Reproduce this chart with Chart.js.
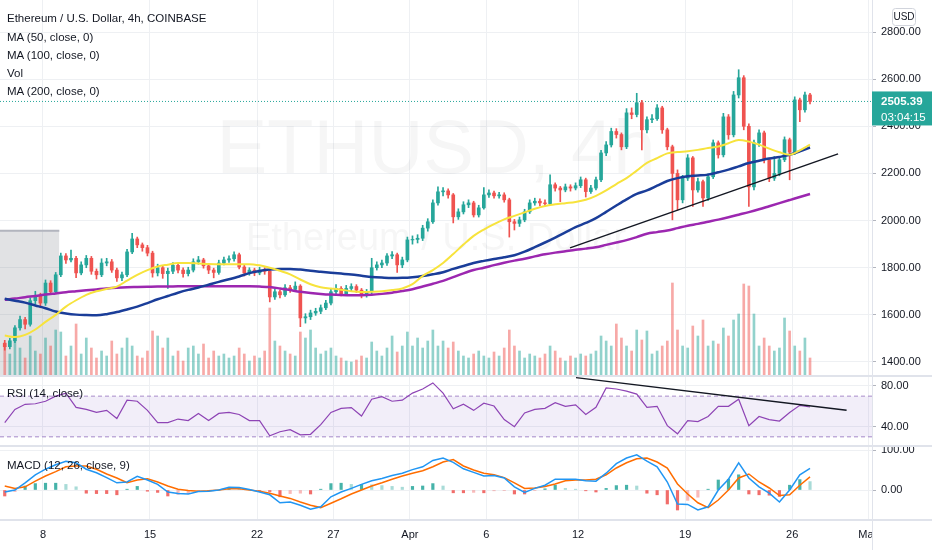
<!DOCTYPE html>
<html>
<head>
<meta charset="utf-8">
<title>ETHUSD 4h</title>
<script src="https://cdn.jsdelivr.net/npm/chart.js@4.4.1/dist/chart.umd.min.js"></script>
<style>
  html, body { margin: 0; padding: 0; background: #fff; }
  #wrap { position: relative; width: 932px; height: 550px; overflow: hidden; }
  #c { display: block; }
  .lg { position: absolute; left: 7px; font: 11.5px "Liberation Sans", Arial, sans-serif;
        color: #131722; line-height: 14px; white-space: nowrap; }
</style>
</head>
<body>
<div id="wrap">
  <canvas id="c" width="932" height="550"></canvas>
  <div class="lg" style="top:11px">Ethereum / U.S. Dollar, 4h, COINBASE</div>
  <div class="lg" style="top:30px">MA (50, close, 0)</div>
  <div class="lg" style="top:48px">MA (100, close, 0)</div>
  <div class="lg" style="top:66px">Vol</div>
  <div class="lg" style="top:84px">MA (200, close, 0)</div>
  <div class="lg" style="top:386px">RSI (14, close)</div>
  <div class="lg" style="top:458px">MACD (12, 26, close, 9)</div>
</div>
<script>
// ETHUSD 4h (Coinbase): price pane + RSI + MACD.
// candles taken every 8h (3 per day) so the series stays readable

// time axis: days counted with Mar 1 = day 1
const START_DAY = 5.5;
const CANDLE_DAYS = 1 / 3;
const X_MIN = 5.19;
const X_MAX = 62.22;

const xTickDays = [8, 15, 22, 27, 32, 37, 43, 50, 57, 62];
const xTickLabels = ["8", "15", "22", "27", "Apr", "6", "12", "19", "26", "May"];
const priceTicks = [1400, 1600, 1800, 2000, 2200, 2400, 2600, 2800];
const rsiTicks = [40, 80];
const macdTicks = [0, 100];

const firstOpen = 1480;
const closes = [
    1465, 1490, 1545, 1580, 1560, 1660, 1680, 1650, 1735, 1698,
    1770, 1850, 1833, 1840, 1778, 1812, 1840, 1785, 1770, 1820,
    1825, 1790, 1757, 1770, 1867, 1922, 1897, 1885, 1862, 1778,
    1800, 1775, 1785, 1810, 1790, 1775, 1790, 1825, 1833, 1808,
    1790, 1780, 1820, 1833, 1838, 1855, 1803, 1778, 1790, 1778,
    1790, 1785, 1676, 1698, 1685, 1715, 1708, 1722, 1587, 1592,
    1608, 1615, 1630, 1650, 1698, 1712, 1690, 1712, 1720, 1705,
    1685, 1698, 1800, 1812, 1820, 1850, 1855, 1812, 1833, 1918,
    1920, 1925, 1968, 1995, 2075, 2122, 2126, 2109, 2016, 2037,
    2067, 2075, 2024, 2054, 2109, 2117, 2105, 2109, 2088, 1995,
    1988, 2003, 2037, 2075, 2082, 2075, 2072, 2152, 2138, 2130,
    2143, 2138, 2148, 2173, 2123, 2138, 2173, 2287, 2321, 2378,
    2365, 2313, 2457, 2450, 2500, 2385, 2428, 2432, 2478, 2385,
    2313, 2200, 2088, 2180, 2266, 2130, 2165, 2096, 2186, 2330,
    2279, 2440, 2364, 2533, 2606, 2400, 2143, 2330, 2372, 2258,
    2180, 2200, 2258, 2343, 2290, 2512, 2470, 2533, 2505.39,
];
const highs = [
    1492, 1500, 1555, 1595, 1590, 1672, 1700, 1692, 1748, 1745,
    1780, 1862, 1860, 1875, 1848, 1825, 1852, 1848, 1795, 1838,
    1840, 1835, 1798, 1782, 1878, 1946, 1930, 1905, 1895, 1870,
    1815, 1810, 1798, 1822, 1820, 1800, 1802, 1838, 1848, 1840,
    1815, 1798, 1832, 1845, 1850, 1867, 1862, 1810, 1800, 1798,
    1802, 1800, 1790, 1710, 1705, 1728, 1725, 1740, 1728, 1605,
    1620, 1628, 1642, 1662, 1710, 1728, 1720, 1725, 1732, 1728,
    1712, 1708, 1840, 1825, 1832, 1860, 1868, 1862, 1845, 1930,
    1935, 1940, 1980, 2008, 2088, 2143, 2140, 2135, 2115, 2050,
    2080, 2088, 2082, 2065, 2140, 2130, 2125, 2120, 2118, 2095,
    2005, 2015, 2048, 2088, 2095, 2092, 2088, 2194, 2160, 2145,
    2155, 2152, 2160, 2185, 2180, 2150, 2185, 2298, 2335, 2392,
    2390, 2372, 2475, 2478, 2540, 2510, 2440, 2450, 2492, 2485,
    2392, 2320, 2215, 2192, 2280, 2272, 2180, 2172, 2198, 2342,
    2338, 2455, 2450, 2548, 2640, 2615, 2410, 2342, 2385, 2380,
    2265, 2272, 2270, 2355, 2350, 2525, 2520, 2545, 2540,
];
const lows = [
    1450, 1455, 1482, 1535, 1540, 1552, 1645, 1630, 1640, 1688,
    1690, 1762, 1818, 1825, 1758, 1770, 1800, 1772, 1752, 1762,
    1808, 1780, 1742, 1745, 1762, 1860, 1885, 1870, 1850, 1760,
    1765, 1755, 1712, 1775, 1778, 1760, 1765, 1782, 1815, 1798,
    1775, 1757, 1772, 1812, 1822, 1828, 1795, 1765, 1768, 1766,
    1770, 1772, 1655, 1665, 1672, 1678, 1695, 1700, 1550, 1565,
    1580, 1598, 1605, 1622, 1642, 1690, 1680, 1682, 1702, 1695,
    1672, 1675, 1690, 1790, 1800, 1810, 1838, 1780, 1800, 1825,
    1900, 1905, 1915, 1955, 1988, 2065, 2105, 2095, 1990, 2005,
    2028, 2055, 2015, 2015, 2048, 2098, 2095, 2095, 2078, 1930,
    1960, 1975, 1995, 2030, 2065, 2062, 2060, 2065, 2125, 2080,
    2122, 2125, 2130, 2140, 2100, 2115, 2130, 2165, 2275, 2312,
    2350, 2300, 2305, 2432, 2440, 2300, 2372, 2415, 2425, 2370,
    2300, 2003, 2045, 2075, 2170, 2060, 2120, 2060, 2085, 2178,
    2265, 2270, 2345, 2355, 2520, 2385, 2060, 2130, 2315, 2245,
    2165, 2170, 2190, 2250, 2173, 2280, 2420, 2460, 2495,
];
// volume, thousand ETH per bar
const volumes = [
    30, 22, 35, 28, 18, 40, 25, 22, 38, 30,
    46, 44, 20, 30, 52, 22, 38, 28, 18, 25,
    20, 35, 22, 28, 38, 30, 20, 18, 25, 45,
    40, 28, 38, 20, 25, 15, 28, 30, 22, 32,
    18, 25, 20, 22, 18, 20, 28, 22, 15, 20,
    18, 25, 68, 35, 30, 25, 22, 20, 44, 38,
    46, 28, 22, 25, 28, 20, 18, 15, 14, 16,
    20, 18, 34, 25, 20, 28, 40, 24, 30, 44,
    30, 38, 28, 35, 46, 30, 35, 28, 34, 25,
    20, 18, 22, 25, 20, 18, 24, 20, 28, 46,
    30, 25, 18, 22, 20, 18, 22, 30, 25, 18,
    15, 20, 18, 22, 20, 22, 25, 40, 35, 30,
    52, 38, 30, 25, 46, 36, 45, 22, 25, 30,
    35, 93, 46, 30, 28, 50, 40, 56, 30, 35,
    32, 48, 40, 56, 62, 92, 90, 62, 30, 38,
    30, 25, 28, 58, 45, 30, 25, 38, 18,
];

// indicators: one value every second candle
const ma50 = [
    1512, 1506, 1515, 1538, 1570, 1600, 1635, 1662, 1685, 1700,
    1710, 1720, 1745, 1770, 1790, 1805, 1813, 1820, 1820, 1818,
    1816, 1815, 1815, 1815, 1815, 1810, 1800, 1787, 1772, 1750,
    1730, 1717, 1712, 1707, 1700, 1697, 1698, 1700, 1705, 1712,
    1730, 1765, 1790, 1820, 1858, 1898, 1935, 1962, 1985, 2005,
    2020, 2035, 2050, 2062, 2069, 2074, 2079, 2088, 2105, 2128,
    2155, 2180, 2212, 2245, 2265, 2285, 2291, 2294, 2300, 2308,
    2314, 2328, 2342, 2335, 2322, 2305, 2290, 2279, 2298, 2322,
];
const ma100 = [
    1668, 1660, 1652, 1640, 1628, 1614, 1606, 1601, 1599, 1598,
    1603, 1612, 1623, 1635, 1650, 1666, 1680, 1694, 1706, 1716,
    1728, 1740, 1751, 1763, 1777, 1786, 1792, 1795, 1795, 1792,
    1787, 1783, 1779, 1775, 1771, 1766, 1761, 1758, 1756, 1757,
    1760, 1765, 1772, 1781, 1795, 1807, 1820, 1829, 1837, 1844,
    1853, 1868, 1887, 1907, 1928, 1950, 1972, 1990, 2010, 2037,
    2064, 2090, 2113, 2128, 2148, 2168, 2180, 2188, 2191, 2195,
    2205, 2216, 2230, 2244, 2254, 2263, 2270, 2279, 2294, 2310,
];
const ma200 = [
    1664, 1669, 1675, 1680, 1686, 1691, 1696, 1700, 1704, 1708,
    1712, 1715, 1717, 1718, 1719, 1720, 1720, 1721, 1721, 1721,
    1721, 1721, 1721, 1721, 1721, 1720, 1718, 1712, 1705, 1698,
    1693, 1689, 1686, 1684, 1683, 1683, 1685, 1689, 1694, 1701,
    1709, 1720, 1732, 1744, 1760, 1776, 1790, 1800, 1811, 1821,
    1830, 1838, 1848, 1857, 1864, 1870, 1876, 1881, 1887, 1897,
    1907, 1917, 1930, 1944, 1951, 1958, 1968, 1978, 1986, 1995,
    2004, 2014, 2025, 2036, 2048, 2061, 2074, 2087, 2100, 2113,
];
const rsi = [
    44, 57, 62, 62.5, 65, 70, 73, 59, 57, 54,
    56, 48, 66, 65, 56, 44, 44, 47.5, 46, 53,
    46, 53, 54, 52, 46, 46, 31, 35, 37, 32,
    32.5, 42, 54, 58, 58.7, 50.5, 67, 69.5, 65, 66,
    73, 77, 83, 73, 57.5, 62, 56, 63, 60.3, 47,
    40, 53.5, 57, 58, 63.6, 60, 61.5, 52, 59, 78,
    77, 75, 72, 59, 60, 41, 33, 46, 45, 50,
    60, 60, 67, 41, 50, 47, 45.5, 54, 61, 59.3,
];
const macd = [
    -5, 0, 18, 38, 52, 63, 72, 68, 52, 43,
    31, 18, 20, 34, 25, 14, -5, -9, -10, -4,
    -3, 0, 7, 6, 1, -5, -12, -32, -30, -38,
    -48, -42, -17, -5, 4, 14, 23, 29, 36, 42,
    51, 58, 74, 80, 69, 53, 44, 35, 36, 30,
    8, -6, 4, 12, 27, 27, 27, 23, 22, 42,
    66, 80, 88, 72, 58, 20, -35, -36, -50, -42,
    0, 27, 68, 30, 8, -8, -30, 0, 38, 54,
];
const signal = [
    10, 4, 8, 22, 35, 46, 58, 60, 60, 52,
    40, 30, 18, 25, 28, 20, 10, 2, -1, -3,
    -2, 0, 3, 3, 0, -3, -8, -15, -21, -30,
    -38, -44, -33, -22, -10, 0, 10, 18, 27, 35,
    42, 48, 58, 70, 76, 60, 50, 42, 38, 31,
    18, 4, 5, 9, 15, 23, 25, 25, 27, 38,
    55, 68, 78, 80, 70, 55, 15, -10, -32, -44,
    -25, 0, 30, 40, 20, 5, -14, -12, 12, 33,
];

// drawings on the chart (day, value)
const priceTrend = [{ x: 42.47, y: 1884 }, { x: 60.0, y: 2283 }];
const rsiTrend = [{ x: 42.86, y: 88.2 }, { x: 60.56, y: 56.1 }];
const rangeBox = [{ x: 5.19, y: 1957 }, { x: 9.07, y: 1957 }];
const rsiBands = [70, 30];

const UP = "#26a69a";
const DOWN = "#ef5350";
const TEXT = "#131722";
const GRID = "#eef0f3";
const FONT = { family: '"Liberation Sans", Arial, sans-serif', size: 11 };

const dayOf = (i) => START_DAY + i * CANDLE_DAYS;
const opens = closes.map((c, i) => (i === 0 ? firstOpen : closes[i - 1]));
const candleColor = closes.map((c, i) => (c >= opens[i] ? UP : DOWN));
const volColor = closes.map((c, i) =>
    c >= opens[i] ? "rgba(38,166,154,0.5)" : "rgba(239,83,80,0.5)"
);
const every2 = (arr) => arr.map((v, k) => ({ x: dayOf(k * 2), y: v }));
const flat = (v) => [{ x: X_MIN, y: v }, { x: X_MAX, y: v }];
const lastPrice = closes[closes.length - 1];

const hist = macd.map((m, k) => m - signal[k]);
const histColor = hist.map((h, k) => {
    const prev = k > 0 ? hist[k - 1] : h;
    if (h >= 0) return h >= prev ? "rgba(38,166,154,0.85)" : "rgba(38,166,154,0.4)";
    return h <= prev ? "rgba(239,83,80,0.85)" : "rgba(239,83,80,0.4)";
});

function lineDs(label, data, axis, color, width, extra) {
    return Object.assign(
        {
            type: "line",
            label,
            data,
            yAxisID: axis,
            borderColor: color,
            borderWidth: width,
            pointRadius: 0,
            tension: 0,
            fill: false,
        },
        extra || {}
    );
}
function barDs(label, data, axis, colors, thickness, order) {
    return {
        type: "bar",
        label,
        data,
        yAxisID: axis,
        backgroundColor: colors,
        barThickness: thickness,
        grouped: false,
        order,
    };
}

const smooth = { cubicInterpolationMode: "monotone" };

const datasets = [
    // grey range highlight at the far left
    lineDs("range", rangeBox, "y", "#b2b5be", 2, {
        fill: "start",
        backgroundColor: "rgba(120,123,134,0.22)",
        order: 100,
    }),
    barDs("Vol", volumes.map((v, i) => ({ x: dayOf(i), y: v })), "yVol", volColor, 2, 90),
    lineDs("last", flat(lastPrice), "y", UP, 1, { borderDash: [1, 2], order: 80 }),
    barDs("wick", closes.map((c, i) => ({ x: dayOf(i), y: [lows[i], highs[i]] })), "y", candleColor, 1, 40),
    barDs("body", closes.map((c, i) => ({ x: dayOf(i), y: [opens[i], c] })), "y", candleColor, 3, 39),
    lineDs("MA200", every2(ma200), "y", "#9c27b0", 2.5, Object.assign({ order: 30 }, smooth)),
    lineDs("MA100", every2(ma100), "y", "#1a3d99", 2.5, Object.assign({ order: 29 }, smooth)),
    lineDs("MA50", every2(ma50), "y", "#f7e33c", 2, Object.assign({ order: 28 }, smooth)),
    lineDs("trend", priceTrend, "y", TEXT, 1.5, { order: 1 }),
    // RSI pane
    lineDs("rsi70", flat(rsiBands[0]), "yRsi", "#a78bc9", 1, {
        borderDash: [4, 3],
        fill: "+1",
        backgroundColor: "rgba(126,87,194,0.1)",
        order: 70,
    }),
    lineDs("rsi30", flat(rsiBands[1]), "yRsi", "#a78bc9", 1, { borderDash: [4, 3], order: 70 }),
    lineDs("RSI", every2(rsi), "yRsi", "#8e44b5", 1.2, { order: 20 }),
    lineDs("rsiTrend", rsiTrend, "yRsi", TEXT, 1.5, { order: 1 }),
    // MACD pane
    barDs("hist", hist.map((h, k) => ({ x: dayOf(k * 2), y: h })), "yMacd", histColor, 2.5, 60),
    lineDs("signal", every2(signal), "yMacd", "#ff6d00", 1.5, { order: 21 }),
    lineDs("MACD", every2(macd), "yMacd", "#2196f3", 1.5, { order: 20 }),
];

const setTicks = (vals) => (s) => {
    s.ticks = vals.map((v) => ({ value: v }));
};
const fitY = (s) => {
    s.width = 60;
    s.paddingTop = 0;
    s.paddingBottom = 0;
};
const yAxis = (extra) =>
    Object.assign(
        {
            position: "right",
            stack: "panes",
            grid: { color: GRID, tickLength: 4, tickColor: "#b2b5be" },
            border: { display: false },
            ticks: {
                padding: 5,
                color: TEXT,
                font: FONT,
                callback: (v) => Number(v).toFixed(2),
            },
            afterFit: fitY,
        },
        extra
    );

// separators, watermark, price tag - TradingView chrome
const paneDecor = {
    id: "paneDecor",
    beforeDatasetsDraw(chart) {
        const { ctx, chartArea: a } = chart;
        const cx = (a.left + a.right) / 2;
        ctx.save();
        ctx.fillStyle = "rgba(19,23,34,0.04)";
        ctx.textAlign = "center";
        ctx.textBaseline = "alphabetic";
        ctx.font = '76px "Liberation Sans", Arial, sans-serif';
        ctx.fillText("ETHUSD, 4h", cx, 173);
        ctx.font = '38px "Liberation Sans", Arial, sans-serif';
        ctx.fillText("Ethereum / U.S. Dollar", cx, 250);
        ctx.restore();
    },
    afterDraw(chart) {
        const { ctx, chartArea: a, width, height } = chart;
        const { y, yRsi, yMacd } = chart.scales;
        ctx.save();
        // cut the last date label at the price axis, like the original
        ctx.fillStyle = "#fff";
        ctx.fillRect(a.right, a.bottom + 1, width - a.right, height - a.bottom);

        ctx.fillStyle = "#e0e3eb";
        [yRsi.top, yMacd.top, yMacd.bottom].forEach((py) =>
            ctx.fillRect(0, Math.round(py) - 1, width, 2)
        );
        ctx.fillRect(a.right, 0, 1, height);

        // last price tag
        const py = y.getPixelForValue(lastPrice);
        ctx.fillStyle = UP;
        ctx.fillRect(a.right, py - 10, width - a.right, 34);
        ctx.fillStyle = "#fff";
        ctx.textAlign = "left";
        ctx.textBaseline = "middle";
        ctx.font = 'bold 11.5px "Liberation Sans", Arial, sans-serif';
        ctx.fillText(lastPrice.toFixed(2), a.right + 9, py);
        ctx.font = '11.5px "Liberation Sans", Arial, sans-serif';
        ctx.fillText("03:04:15", a.right + 9, py + 16);

        // currency button
        ctx.strokeStyle = "#d1d4dc";
        ctx.lineWidth = 1;
        ctx.beginPath();
        ctx.roundRect(892.5, 8.5, 23, 17, 3);
        ctx.stroke();
        ctx.fillStyle = TEXT;
        ctx.textAlign = "center";
        ctx.font = '10px "Liberation Sans", Arial, sans-serif';
        ctx.fillText("USD", 904, 17.5);
        ctx.restore();
    },
};

new Chart(document.getElementById("c"), {
    type: "bar",
    data: { datasets },
    options: {
        responsive: false,
        animation: false,
        layout: { padding: 0 },
        plugins: { legend: { display: false }, tooltip: { enabled: false } },
        scales: {
            x: {
                type: "linear",
                min: X_MIN,
                max: X_MAX,
                offset: false,
                grid: { color: GRID, offset: false, drawTicks: false },
                border: { display: false },
                afterBuildTicks: setTicks(xTickDays),
                ticks: {
                    padding: 8,
                    color: TEXT,
                    font: FONT,
                    maxRotation: 0,
                    autoSkip: false,
                    callback: (v, i) => xTickLabels[i],
                },
                afterFit: (s) => {
                    s.height = 30;
                    s.paddingLeft = 0;
                    s.paddingRight = 0;
                },
            },
            y: yAxis({ stackWeight: 376, min: 1340.6, max: 2935.8, afterBuildTicks: setTicks(priceTicks) }),
            yRsi: yAxis({ stackWeight: 70, min: 21, max: 89.8, afterBuildTicks: setTicks(rsiTicks) }),
            yMacd: yAxis({ stackWeight: 74, min: -75, max: 110, afterBuildTicks: setTicks(macdTicks) }),
            yVol: { display: false, min: -144, max: 376 },
        },
    },
    plugins: [paneDecor],
});
</script>
</body>
</html>
